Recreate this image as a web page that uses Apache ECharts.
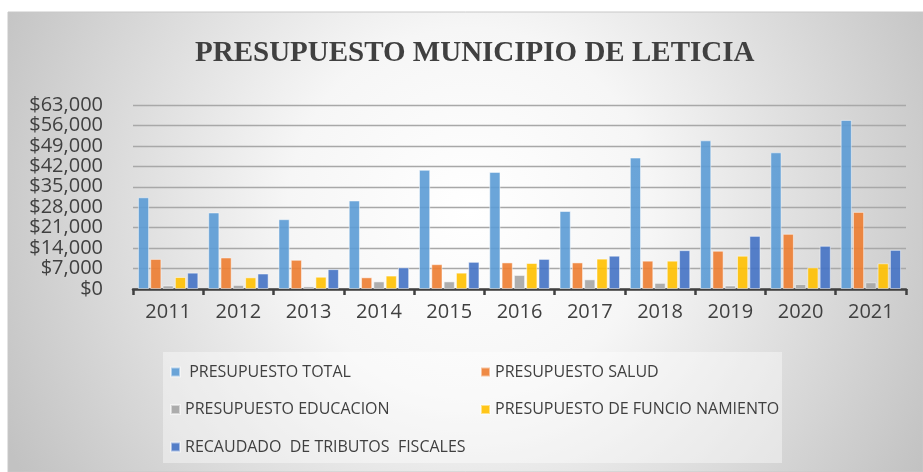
<!DOCTYPE html>
<html>
<head>
<meta charset="UTF-8">
<title>Presupuesto Leticia</title>
<script type="text/javascript" src="https://cdn.jsdelivr.net/npm/echarts@6.0.0/dist/echarts.min.js"></script>
<style>
	body{margin:0;background:#fff}
</style>
</head>
<body>
<div id="main" style="width:923px;height:472px"></div>
<script type="text/javascript">
	// datos (en miles)
	var anios = ['2011','2012','2013','2014','2015','2016','2017','2018','2019','2020','2021'];
	var total = [31400, 26200, 23900, 30300, 40800, 40100, 26700, 45000, 50900, 46800, 57900];
	var salud = [10300, 10800, 10000, 4000, 8500, 9100, 9100, 9700, 13100, 18900, 26400];
	var educacion = [1200, 1400, 900, 2600, 2600, 4800, 3300, 2100, 1200, 1700, 2300];
	var funcionamiento = [4100, 4000, 4200, 4600, 5600, 8900, 10400, 9700, 11400, 7400, 8800];
	var recaudado = [5600, 5300, 6800, 7400, 9300, 10300, 11400, 13300, 18200, 14800, 13400];

	var myEcharts = echarts.init(document.getElementById('main'));

	function serie(nombre, datos, color) {
		return {
			name: nombre,
			type: 'bar',
			data: datos,
			barCategoryGap: '14%',
			barGap: '10%',
			itemStyle: {
				color: color,
				opacity: 0.9,
				borderColor: 'rgba(255,255,255,0.55)',
				borderWidth: 1
			}
		};
	}

	var fuenteLeyenda = {fontFamily: 'Open Sans', fontSize: 16, color: '#404040', lineHeight: 16};

	var option = {
		animation: false,
		graphic: [
			{
				type: 'rect', z: -10, silent: true,
				shape: {x: 8, y: 12, width: 915, height: 460},
				style: {
					fill: {
						type: 'radial', x: 470, y: 210, r: 520, global: true,
						colorStops: [
							{offset: 0, color: '#ffffff'},
							{offset: 0.35, color: '#f6f6f6'},
							{offset: 1, color: '#c2c2c2'}
						]
					},
					stroke: '#c8c8c8', lineWidth: 1
				}
			},
			{
				type: 'rect', z: -9, silent: true,
				shape: {x: 163, y: 352, width: 619, height: 111},
				style: {fill: 'rgba(255,255,255,0.4)'}
			}
		],
		title: {
			text: 'PRESUPUESTO MUNICIPIO DE LETICIA',
			left: 190,
			top: 34,
			textStyle: {
				fontFamily: 'Liberation Serif',
				fontWeight: 'bold',
				fontSize: 29,
				color: '#404040'
			}
		},
		legend: [
			{
				data: ['PRESUPUESTO TOTAL', 'PRESUPUESTO EDUCACION', 'RECAUDADO  DE TRIBUTOS  FISCALES'],
				orient: 'vertical',
				left: 170, top: 364,
				padding: 0,
				itemGap: 21.5,
				itemWidth: 9, itemHeight: 9,
				icon: 'rect',
				formatter: function (n) { return n === 'PRESUPUESTO TOTAL' ? ' ' + n : n; },
				textStyle: fuenteLeyenda
			},
			{
				data: ['PRESUPUESTO SALUD', 'PRESUPUESTO DE FUNCIO NAMIENTO'],
				orient: 'vertical',
				left: 480, top: 364,
				padding: 0,
				itemGap: 21.5,
				itemWidth: 9, itemHeight: 9,
				icon: 'rect',
				textStyle: fuenteLeyenda
			}
		],
		grid: {
			left: 133,
			right: 17,
			top: 105,
			bottom: 183
		},
		xAxis: {
			type: 'category',
			data: anios,
			axisLine: {lineStyle: {color: '#404040', width: 2.5}},
			axisTick: {show: true, length: 6, lineStyle: {color: '#404040', width: 2.5}},
			axisLabel: {
				margin: 13,
				fontFamily: 'Open Sans',
				fontSize: 20,
				color: '#404040'
			}
		},
		yAxis: {
			type: 'value',
			min: 0,
			max: 63000,
			interval: 7000,
			axisLine: {show: false},
			axisTick: {show: false},
			splitLine: {lineStyle: {color: '#a8a8a8', width: 1.3}},
			axisLabel: {
				margin: 30,
				fontFamily: 'Open Sans',
				fontSize: 20,
				color: '#404040',
				formatter: function (v) {
					return '$' + v.toLocaleString('en-US');
				}
			}
		},
		series: [
			serie('PRESUPUESTO TOTAL', total, '#5B9BD5'),
			serie('PRESUPUESTO SALUD', salud, '#ED7D31'),
			serie('PRESUPUESTO EDUCACION', educacion, '#A5A5A5'),
			serie('PRESUPUESTO DE FUNCIO NAMIENTO', funcionamiento, '#FFC000'),
			serie('RECAUDADO  DE TRIBUTOS  FISCALES', recaudado, '#4472C4')
		]
	};

	myEcharts.setOption(option);
</script>
</body>
</html>
